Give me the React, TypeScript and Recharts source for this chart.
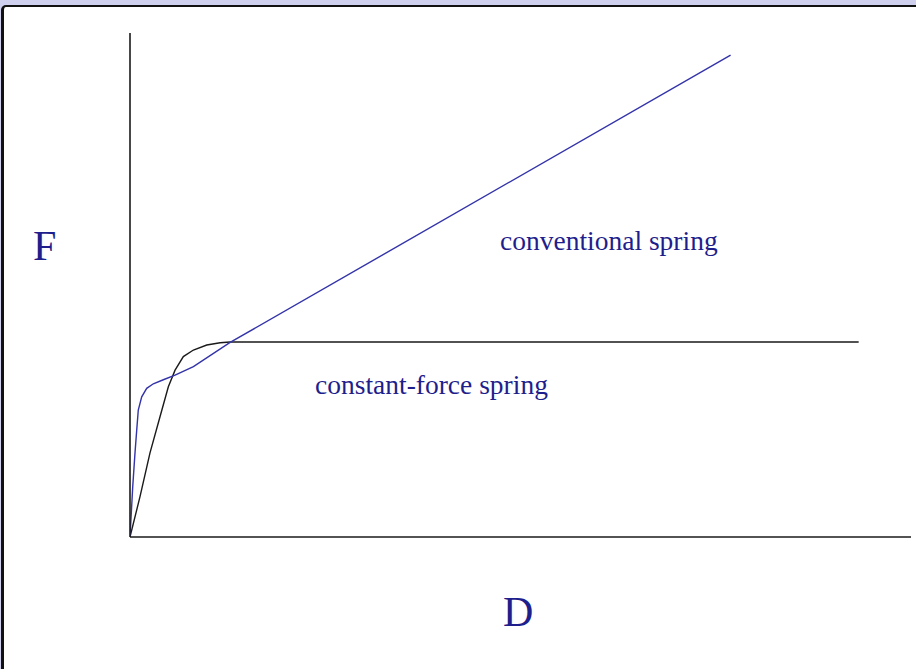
import React from 'react';
import { LineChart, Line, XAxis, YAxis } from 'recharts';

// displacement (D) / force (F), both in relative units 0..100
const conventionalD = [0, 0.35, 0.64, 0.86, 1.06, 1.5, 2.14, 2.99, 4.27, 5.77, 8.12, 12.82, 76.9];
const conventionalF = [0, 10.0, 16.7, 21.2, 25.2, 27.8, 29.5, 30.4, 31.2, 32.1, 33.8, 38.6, 95.6];

const constantD = [0, 1.28, 2.56, 3.85, 4.91, 5.77, 6.83, 8.12, 9.83, 11.54, 12.82, 93.3];
const constantF = [0, 8.0, 16.7, 23.9, 29.8, 33.1, 35.8, 37.1, 38.1, 38.55, 38.7, 38.7];

const conventional = conventionalD.map((d, i) => ({ d, f: conventionalF[i] }));
const constant = constantD.map((d, i) => ({ d, f: constantF[i] }));

const serif = "'Liberation Serif', 'Times New Roman', serif";
const navy = '#1e1e8c';

const label = (text: string, left: number, top: number, size: number): React.ReactNode => (
  <div
    style={{
      position: 'absolute', left, top, fontFamily: serif, fontSize: size,
      color: navy, lineHeight: 1, whiteSpace: 'nowrap',
    }}
  >
    {text}
  </div>
);

export default function App() {
  return (
    <div style={{ position: 'fixed', left: 0, top: 0, width: 916, height: 669, background: '#cfcfee', overflow: 'hidden' }}>
      {/* white panel with dark frame */}
      <div
        style={{
          position: 'absolute', left: 1, top: 5, width: 915, height: 664, background: '#fff',
          borderTop: '2px solid #111', borderLeft: '3px solid #111', borderTopLeftRadius: 5,
          boxSizing: 'border-box',
        }}
      />
      <div style={{ position: 'absolute', left: 0, top: 0 }}>
        <LineChart width={916} height={669} margin={{ top: 33, right: 5, bottom: 131, left: 129 }}>
          <XAxis
            type="number" dataKey="d" domain={[0, 100]} tick={false} tickLine={false}
            height={1} axisLine={{ stroke: '#1a1a1a', strokeWidth: 1.6 }} allowDataOverflow
          />
          <YAxis
            type="number" dataKey="f" domain={[0, 100]} tick={false} tickLine={false}
            width={1} axisLine={{ stroke: '#1a1a1a', strokeWidth: 1.6 }} allowDataOverflow
          />
          <Line
            data={constant} dataKey="f" type="linear" stroke="#1a1a1a" strokeWidth={1.4}
            dot={false} isAnimationActive={false}
          />
          <Line
            data={conventional} dataKey="f" type="linear" stroke="#3333aa" strokeWidth={1.4}
            dot={false} isAnimationActive={false}
          />
        </LineChart>
      </div>
      {label('F', 33, 225, 42)}
      {label('D', 503, 591, 42)}
      {label('conventional spring', 500, 227, 27.5)}
      {label('constant-force spring', 315, 371, 27.5)}
    </div>
  );
}
